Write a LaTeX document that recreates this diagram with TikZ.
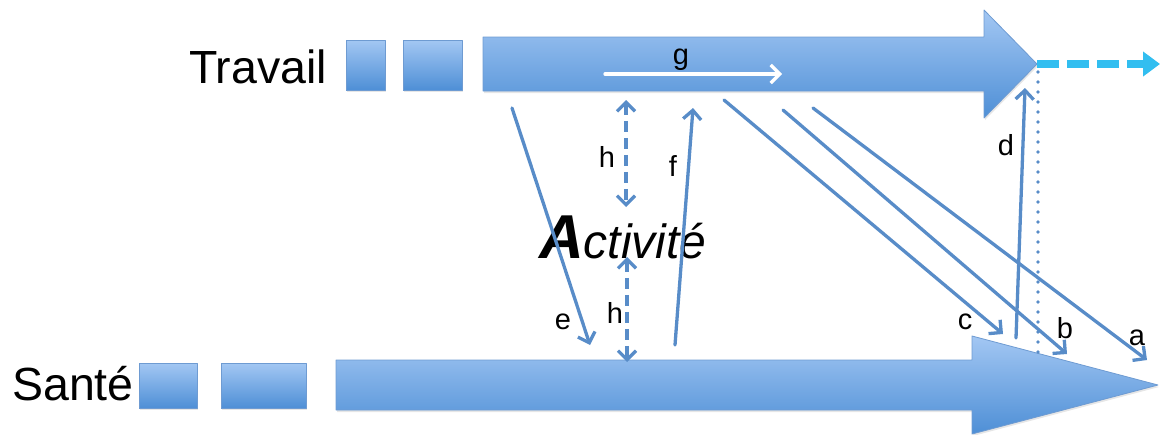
\documentclass[tikz,border=0pt]{standalone}
\usepackage{fontspec}
\setmainfont{Liberation Sans}
\usetikzlibrary{arrows.meta,shadows}
\definecolor{boxtop}{RGB}{163,199,243}
\definecolor{boxbot}{RGB}{78,143,214}
\definecolor{boxline}{RGB}{110,155,210}
\definecolor{linkblue}{RGB}{88,140,200}
\definecolor{nextblue}{RGB}{50,190,240}
\tikzset{
	blk/.style={draw=boxline, line width=0.8pt, top color=boxtop, bottom color=boxbot, drop shadow={opacity=0.2, shadow xshift=1pt, shadow yshift=-2pt}},
	sq/.style={blk, inner sep=0pt, minimum height=50pt},
	lnk/.style={draw=linkblue, line width=3.3pt, line cap=round, -{Straight Barb[length=9pt,width=18pt]}},
	hlnk/.style={lnk, {Straight Barb[length=9pt,width=18pt]}-{Straight Barb[length=9pt,width=18pt]}, line cap=butt, dash pattern=on 11pt off 6pt},
	lbl/.style={font=\fontsize{29}{29}\selectfont, inner sep=0pt},
	big/.style={font=\fontsize{46.5}{46.5}\selectfont, inner sep=0pt}
}
\begin{document}
\begin{tikzpicture}[x=1pt, y=-1pt, line join=round]
	\useasboundingbox (0,0) rectangle (1161,434);
	\draw[blk] (483,37) -- (984,37) -- (984,10) -- (1037,64) -- (984,118) -- (984,91) -- (483,91) -- cycle;
	\draw[blk] (336,360) -- (972,360) -- (972,336) -- (1158,385) -- (972,434) -- (972,410) -- (336,410) -- cycle;
	\node[sq, minimum width=39pt, minimum height=50pt] (t1) at (365.5,65) {};
	\node[sq, minimum width=59pt, minimum height=50pt] (t2) at (432.5,65) {};
	\node[sq, minimum width=58pt, minimum height=45pt] (s1) at (168,385.5) {};
	\node[sq, minimum width=85pt, minimum height=45pt] (s2) at (263.5,385.5) {};
	\node[big, anchor=base east] (travail) at (327,83) {Travail};
	\node[big, anchor=base west] (sante) at (12,400) {Santé};
	\node[inner sep=0pt, anchor=base west] (activite) at (539,258) {{\fontsize{62}{62}\selectfont\bfseries\itshape A}{\fontsize{48}{48}\selectfont\itshape ctivité}};
	\coordinate (top) at (1037,64);
	\coordinate (next) at (1160,64);
	\coordinate (foot) at (1038,355);
	\draw[nextblue, line width=8pt, dash pattern=on 22pt off 8pt, -{Triangle[length=17pt,width=24pt]}] (top) -- (next);
	\draw[linkblue, line width=3.6pt, line cap=round, dash pattern=on 0pt off 10pt] (1038,72) -- (foot);
	\coordinate (eS) at (512,108); \coordinate (eE) at (590,345);
	\coordinate (fS) at (675,345); \coordinate (fE) at (693,108);
	\coordinate (cS) at (724,100); \coordinate (cE) at (1003,334);
	\coordinate (bS) at (783,110); \coordinate (bE) at (1067,354);
	\coordinate (aS) at (813,108); \coordinate (aE) at (1147,360);
	\coordinate (dS) at (1016,338); \coordinate (dE) at (1025,88);
	\coordinate (gS) at (605,74); \coordinate (gE) at (782,74);
	\coordinate (hA) at (626,100); \coordinate (hB) at (626,207);
	\coordinate (hC) at (627,257); \coordinate (hD) at (627,362);
	\draw[lnk] (eS) -- (eE);
	\draw[lnk] (fS) -- (fE);
	\draw[lnk] (cS) -- (cE);
	\draw[lnk] (bS) -- (bE);
	\draw[lnk] (aS) -- (aE);
	\draw[lnk] (dS) -- (dE);
	\draw[lnk, draw=white] (gS) -- (gE);
	\draw[hlnk] (hA) -- (hB);
	\draw[hlnk] (hC) -- (hD);
	\node[lbl] (la) at (1137,338) {a};
	\node[lbl] (lb) at (1065,328) {b};
	\node[lbl] (lc) at (965,322) {c};
	\node[lbl] (ld) at (1006,145) {d};
	\node[lbl] (le) at (563,322) {e};
	\node[lbl] (lf) at (673,166) {f};
	\node[lbl] (lg) at (681,60) {g};
	\node[lbl] (lh) at (607,157) {h};
	\node[lbl] (lh2) at (615,313) {h};
\end{tikzpicture}
\end{document}
